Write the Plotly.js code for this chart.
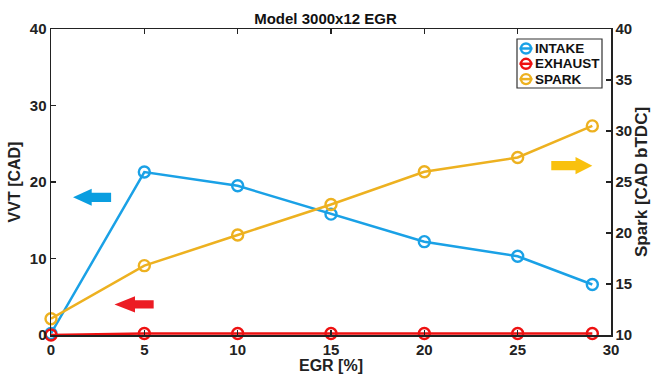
<!DOCTYPE html>
<html><head><meta charset="utf-8">
<script src="https://cdn.plot.ly/plotly-3.0.1.min.js"></script>
<style>html,body{margin:0;padding:0;background:#fff}#c{width:651px;height:376px}</style>
</head><body><div id="c"></div>
<script>
const egr = [0, 5, 10, 15, 20, 25, 29];
const intake = [0.2, 21.3, 19.5, 15.8, 12.2, 10.3, 6.6];
const exhaust = [0, 0.2, 0.2, 0.2, 0.2, 0.2, 0.2];
const spark = [11.6, 16.8, 19.8, 22.8, 26.0, 27.4, 30.5];
const names = ['INTAKE', 'EXHAUST', 'SPARK'];
const colors = ['#1AA1E6', '#EE1111', '#EDB120'];
const xTicks = [0, 5, 10, 15, 20, 25, 30];
const yTicks = [0, 10, 20, 30, 40];
const y2Ticks = [10, 15, 20, 25, 30, 35, 40];
const b = v => v.map(t => '<b>' + t + '</b>');

const F = 'Liberation Sans, Arial, sans-serif';
function tr(y, i, axis) {
  return {x: egr, y: y, name: names[i], type: 'scatter', mode: 'lines+markers', yaxis: axis,
    cliponaxis: false, showlegend: false,
    line: {color: colors[i], width: 2.5},
    marker: {symbol: 'circle-open', size: 11, color: colors[i], line: {width: 2.4, color: colors[i]}}};
}
function arrow(x0, x1, yc, hw, sh, headLen, ref) {
  const dir = x1 > x0 ? 1 : -1;
  const xh = x0 + dir * headLen;
  return {type: 'path', xref: 'x', yref: ref, line: {width: 0},
    path: `M ${x0} ${yc} L ${xh} ${yc + hw} L ${xh} ${yc + sh} L ${x1} ${yc + sh} L ${x1} ${yc - sh} L ${xh} ${yc - sh} L ${xh} ${yc - hw} Z`};
}
const a1 = arrow(1.18, 3.22, 18.0, 1.12, 0.6, 1.0, 'y'); a1.fillcolor = '#0A9EE0';
const a2 = arrow(3.4, 5.5, 4.0, 1.05, 0.55, 1.1, 'y'); a2.fillcolor = '#EC1C24';
const a3 = arrow(29.0, 26.8, 26.6, 0.85, 0.45, 0.9, 'y2'); a3.fillcolor = '#F9C10E';

// legend box: page pixels converted to paper (plot area) fractions
const W = 651, H = 376, L = 51, R = 40, T = 29, B = 41;
const PW = W - L - R, PH = H - T - B;
const px = x => (x - L) / PW, py = y => (H - B - y) / PH;
const shapes = [a1, a2, a3];
const annotations = [];
shapes.push({type: 'rect', xref: 'paper', yref: 'paper', x0: px(517), x1: px(602), y0: py(39), y1: py(88),
  fillcolor: '#fff', line: {color: '#333', width: 1.2}});
names.forEach((n, i) => {
  const yc = 48.5 + i * 15.3;
  shapes.push({type: 'line', xref: 'paper', yref: 'paper', x0: px(519.5), x1: px(532.5), y0: py(yc), y1: py(yc),
    line: {color: colors[i], width: 2.5}});
  shapes.push({type: 'circle', xref: 'paper', yref: 'paper', x0: px(521), x1: px(531), y0: py(yc - 5), y1: py(yc + 5),
    line: {color: colors[i], width: 2.4}});
  annotations.push({xref: 'paper', yref: 'paper', x: px(534), y: py(yc), xanchor: 'left', yanchor: 'middle',
    text: '<b>' + n + '</b>', showarrow: false, borderpad: 0, font: {family: F, size: 13.5, color: '#111'}});
});

const axCommon = {ticks: 'inside', ticklen: 5, tickwidth: 1.2, tickcolor: '#222', tickmode: 'array',
  showline: true, linecolor: '#222', linewidth: 1.5, showgrid: false, zeroline: false,
  tickfont: {family: F, size: 15, color: '#222', weight: 'bold'}};

const layout = {
  width: W, height: H,
  margin: {l: L, r: R, t: T, b: B},
  paper_bgcolor: '#fff', plot_bgcolor: '#fff',
  showlegend: false,
  title: {text: '<b>Model 3000x12 EGR</b>', font: {family: F, size: 15, color: '#111'}, x: 0.5, xanchor: 'center', y: 1 - 18.5 / H, yanchor: 'middle'},
  font: {family: F, color: '#000'},
  xaxis: Object.assign({}, axCommon, {range: [0, 30], tickvals: xTicks, ticktext: b(xTicks), mirror: 'ticks',
    title: {text: '<b>EGR [%]</b>', font: {family: F, size: 16, color: '#222'}, standoff: 3}}),
  yaxis: Object.assign({}, axCommon, {range: [0, 40], tickvals: yTicks, ticktext: b(yTicks),
    title: {text: '<b>VVT [CAD]</b>', font: {family: F, size: 16, color: '#222'}, standoff: 5}}),
  yaxis2: Object.assign({}, axCommon, {range: [10, 40], tickvals: y2Ticks, ticktext: b(y2Ticks), overlaying: 'y', side: 'right',
    title: {text: '<b>Spark [CAD bTDC]</b>', font: {family: F, size: 17, color: '#222'}, standoff: 4}}),
  shapes: shapes,
  annotations: annotations
};
Plotly.newPlot('c', [tr(intake, 0, 'y'), tr(exhaust, 1, 'y'), tr(spark, 2, 'y2')], layout, {staticPlot: true});
</script></body></html>
